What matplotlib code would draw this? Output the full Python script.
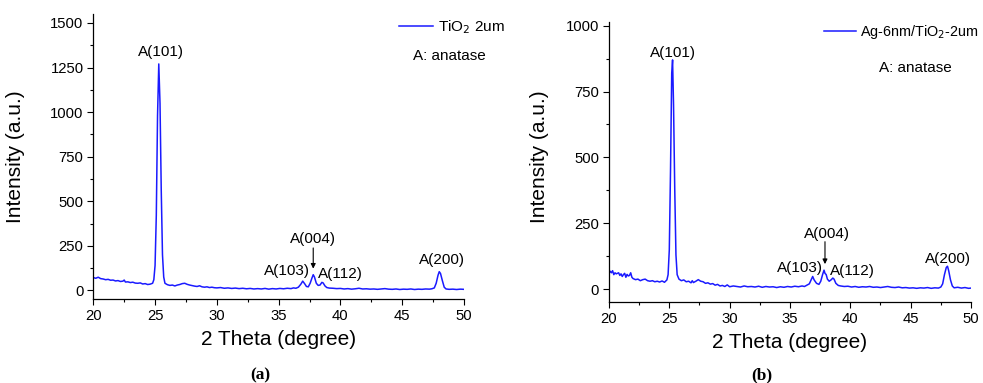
import numpy as np
import matplotlib
matplotlib.use("Agg")
import matplotlib.pyplot as plt
from matplotlib.ticker import MultipleLocator

plt.rcParams['font.family'] = ['Liberation Sans', 'DejaVu Sans']

# (a) TiO2 2um
theta_a = [20.0, 20.2, 20.4, 20.6, 20.8, 21.0, 21.2, 21.4, 21.6, 21.8, 22.0, 22.2, 22.4, 22.5, 22.6,
           22.8, 23.0, 23.2, 23.4, 23.6, 23.8, 24.0, 24.2, 24.4, 24.6, 24.8, 24.9, 25.0, 25.1, 25.2,
           25.3, 25.4, 25.5, 25.6, 25.7, 25.8, 26.0, 26.2, 26.4, 26.6, 26.8, 27.0, 27.2, 27.4, 27.6,
           27.8, 28.0, 28.2, 28.4, 28.6, 28.8, 29.0, 29.2, 29.4, 29.6, 29.8, 30.0, 30.3, 30.6, 30.9,
           31.2, 31.5, 31.8, 32.1, 32.4, 32.7, 33.0, 33.3, 33.6, 33.9, 34.2, 34.5, 34.8, 35.1, 35.4,
           35.7, 36.0, 36.2, 36.4, 36.6, 36.8, 36.95, 37.1, 37.25, 37.4, 37.55, 37.7, 37.8, 37.9, 38.05,
           38.2, 38.35, 38.5, 38.6, 38.75, 38.9, 39.1, 39.4, 39.7, 40.0, 40.3, 40.6, 40.9, 41.2, 41.5,
           41.8, 42.1, 42.4, 42.7, 43.0, 43.3, 43.6, 43.9, 44.2, 44.5, 44.8, 45.1, 45.4, 45.7, 46.0,
           46.3, 46.6, 46.9, 47.2, 47.4, 47.6, 47.75, 47.9, 48.0, 48.1, 48.25, 48.4, 48.55, 48.8, 49.1,
           49.4, 49.7, 50.0]
int_a = [72, 68, 74, 66, 64, 60, 62, 57, 58, 53, 55, 50, 52, 58, 47,
         48, 44, 46, 41, 40, 42, 36, 38, 33, 35, 40, 60, 140, 420, 980,
         1270, 1050, 560, 200, 75, 40, 32, 28, 30, 25, 30, 33, 38, 40, 34,
         30, 27, 24, 22, 26, 20, 18, 20, 16, 18, 15, 14, 16, 12, 14,
         11, 13, 10, 12, 9, 11, 8, 10, 8, 11, 7, 10, 8, 11, 9,
         12, 10, 14, 12, 18, 35, 52, 38, 22, 20, 40, 70, 88, 75, 40,
         28, 30, 45, 42, 25, 16, 13, 12, 10, 11, 8, 10, 7, 9, 12,
         8, 9, 7, 8, 6, 8, 10, 7, 6, 8, 5, 7, 6, 8, 5,
         7, 6, 8, 7, 9, 14, 40, 85, 105, 95, 55, 18, 8, 6, 7,
         5, 7, 6]

# (b) Ag-6nm/TiO2-2um
theta_b = [20.0, 20.1, 20.2, 20.3, 20.4, 20.5, 20.6, 20.7, 20.8, 20.9, 21.0, 21.1, 21.2, 21.3, 21.4,
           21.5, 21.6, 21.7, 21.8, 21.9, 22.0, 22.2, 22.4, 22.6, 22.8, 23.0, 23.2, 23.4, 23.6, 23.8,
           24.0, 24.2, 24.4, 24.6, 24.8, 24.9, 25.0, 25.1, 25.2, 25.27, 25.35, 25.45, 25.55, 25.65, 25.8,
           26.0, 26.2, 26.4, 26.6, 26.8, 26.9, 27.0, 27.2, 27.4, 27.6, 27.8, 28.0, 28.2, 28.4, 28.6,
           28.8, 29.0, 29.2, 29.4, 29.6, 29.8, 30.0, 30.3, 30.6, 30.9, 31.2, 31.5, 31.8, 32.1, 32.4,
           32.7, 33.0, 33.3, 33.6, 33.9, 34.2, 34.5, 34.8, 35.1, 35.4, 35.7, 36.0, 36.2, 36.4, 36.6,
           36.75, 36.88, 37.0, 37.2, 37.4, 37.55, 37.7, 37.82, 37.9, 38.0, 38.1, 38.25, 38.4, 38.55, 38.65,
           38.8, 39.0, 39.2, 39.5, 39.8, 40.1, 40.4, 40.7, 41.0, 41.3, 41.6, 41.9, 42.2, 42.5, 42.8,
           43.1, 43.4, 43.7, 44.0, 44.3, 44.6, 44.9, 45.2, 45.5, 45.8, 46.1, 46.4, 46.7, 47.0, 47.3,
           47.5, 47.65, 47.8, 47.95, 48.05, 48.15, 48.3, 48.45, 48.6, 48.9, 49.2, 49.5, 49.8, 50.0]
int_b = [60, 68, 62, 70, 55, 62, 58, 60, 62, 52, 58, 48, 55, 60, 45,
         56, 50, 52, 62, 45, 40, 36, 38, 32, 36, 38, 32, 30, 32, 28,
         30, 27, 31, 26, 35, 55, 150, 450, 820, 870, 700, 380, 130, 55, 38,
         32, 35, 28, 30, 24, 32, 25, 30, 36, 30, 28, 22, 24, 19, 21,
         15, 18, 12, 14, 10, 16, 9, 12, 10, 8, 12, 9, 10, 8, 11,
         7, 10, 8, 9, 6, 9, 7, 10, 8, 11, 9, 12, 10, 15, 20,
         35, 48, 35, 22, 18, 30, 55, 72, 60, 55, 38, 30, 35, 42, 38,
         22, 14, 12, 10, 11, 8, 10, 7, 9, 8, 10, 7, 8, 6, 8,
         10, 7, 6, 8, 5, 6, 4, 5, 3, 5, 4, 6, 3, 5, 4,
         8, 20, 55, 82, 87, 70, 35, 12, 5, 7, 4, 6, 3, 4]

peak_labels = ['A(101)', 'A(103)', 'A(004)', 'A(112)', 'A(200)']
label_pos_a = [(25.5, 1338), (35.65, 106), (37.8, 290), (40.02, 92), (48.24, 172)]
label_pos_b = [(25.28, 897), (35.83, 80), (38.03, 210), (40.16, 69), (48.11, 115)]

line_color = '#1a1aff'
ann_size = 11

fig = plt.figure(figsize=(9.83, 3.83), dpi=100)
ax_a = fig.add_axes([0.0949, 0.2185, 0.3771, 0.7449])
ax_b = fig.add_axes([0.6195, 0.2107, 0.3683, 0.7326])


def style_axes(ax, ylim, ymajor):
    ax.set_xlim(20, 50)
    ax.set_ylim(*ylim)
    ax.xaxis.set_major_locator(MultipleLocator(5))
    ax.xaxis.set_minor_locator(MultipleLocator(2.5))
    ax.yaxis.set_major_locator(MultipleLocator(ymajor))
    ax.yaxis.set_minor_locator(MultipleLocator(ymajor / 2))
    ax.spines['top'].set_visible(False)
    ax.spines['right'].set_visible(False)
    for s in ('left', 'bottom'):
        ax.spines[s].set_linewidth(0.9)
    ax.tick_params(which='major', direction='out', length=4, width=0.8,
                   labelsize=10.7, pad=3)
    ax.tick_params(which='minor', direction='out', length=2.5, width=0.8)
    ax.set_xlabel('2 Theta (degree)', fontsize=15)
    ax.set_ylabel('Intensity (a.u.)', fontsize=15)


# panel (a)
ax_a.plot(theta_a, int_a, color=line_color, lw=1.1, label='TiO$_2$ 2um')
style_axes(ax_a, (-50, 1550), 250)
for txt, (x, y) in zip(peak_labels, label_pos_a):
    ax_a.text(x, y, txt, ha='center', va='center', fontsize=ann_size)
ax_a.annotate('', xy=(37.8, 122), xytext=(37.8, 238),
              arrowprops=dict(arrowstyle='-|>', color='black', lw=0.8,
                              mutation_scale=7, shrinkA=0, shrinkB=0))
ax_a.text(48.8, 1313, 'A: anatase', ha='center', va='center', fontsize=ann_size)
ax_a.legend(loc='upper left', bbox_to_anchor=(399 / 983, 1 - 18 / 383),
            bbox_transform=fig.transFigure, frameon=False, fontsize=ann_size,
            handlelength=2.2, handletextpad=0.35, borderpad=0, borderaxespad=0)
ax_a.yaxis.set_label_coords(-0.184, 0.5)
ax_a.xaxis.set_label_coords(0.5, -0.108)

# panel (b)
ax_b.plot(theta_b, int_b, color=line_color, lw=1.1, label='Ag-6nm/TiO$_2$-2um')
style_axes(ax_b, (-50, 1015), 250)
ax_b.yaxis.set_minor_locator(MultipleLocator(125))
for txt, (x, y) in zip(peak_labels, label_pos_b):
    ax_b.text(x, y, txt, ha='center', va='center', fontsize=ann_size)
ax_b.annotate('', xy=(37.9, 95), xytext=(37.9, 180),
              arrowprops=dict(arrowstyle='-|>', color='black', lw=0.8,
                              mutation_scale=7, shrinkA=0, shrinkB=0))
ax_b.text(45.36, 841, 'A: anatase', ha='center', va='center', fontsize=ann_size)
ax_b.legend(loc='upper left', bbox_to_anchor=(824 / 983, 1 - 23 / 383),
            bbox_transform=fig.transFigure, frameon=False, fontsize=10.4,
            handlelength=2.2, handletextpad=0.3, borderpad=0, borderaxespad=0)
ax_b.yaxis.set_label_coords(-0.166, 0.52)
ax_b.xaxis.set_label_coords(0.5, -0.11)

# captions
fig.text(260 / 983, 1 - 375 / 383, '(a)', ha='center', va='center',
         fontsize=12.5, fontweight='bold', family='Liberation Serif')
fig.text(762 / 983, 1 - 375 / 383, '(b)', ha='center', va='center',
         fontsize=12.5, fontweight='bold', family='Liberation Serif')

fig.savefig('out.png', dpi=100)
